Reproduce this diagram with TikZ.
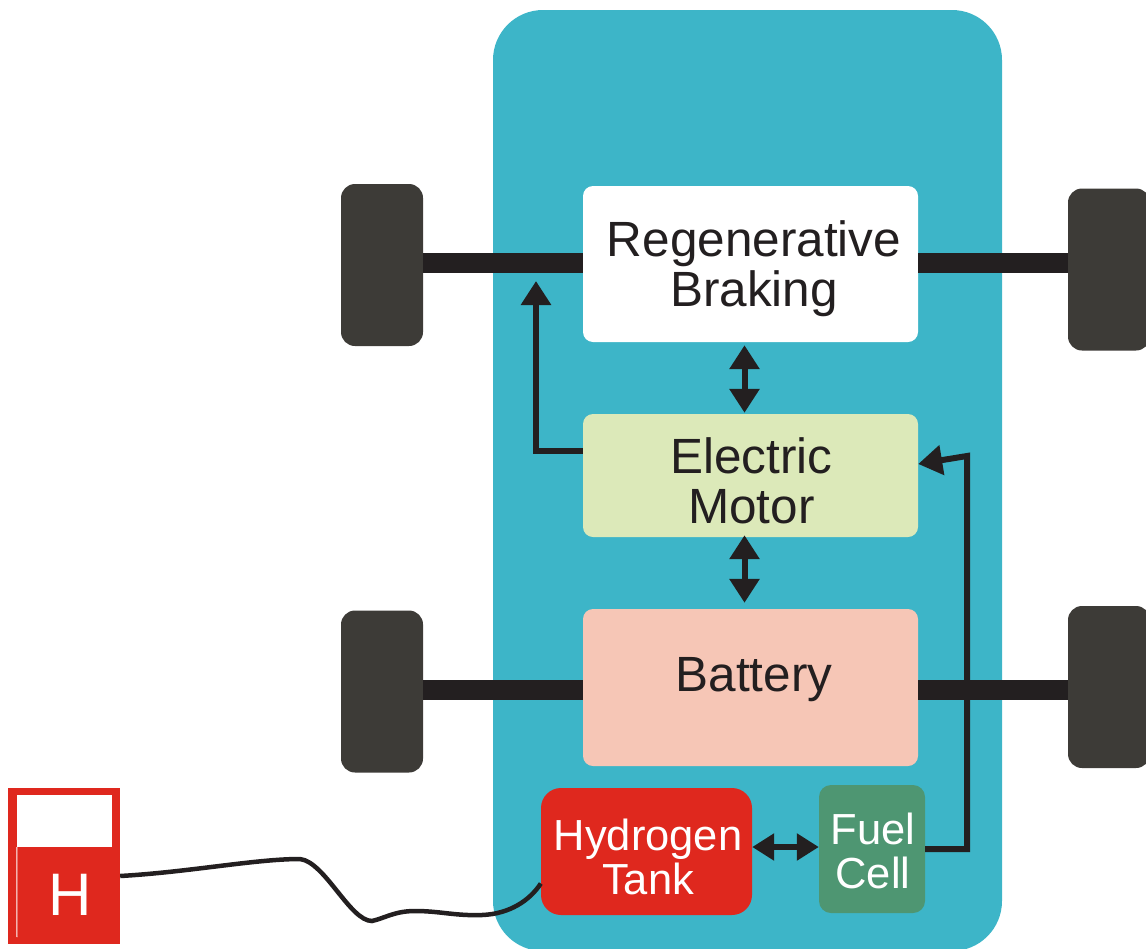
\documentclass[tikz,border=0pt]{standalone}
\usepackage{fontspec}
\setmainfont{Liberation Sans}
\usetikzlibrary{arrows.meta}
\definecolor{bodyteal}{HTML}{3DB5C8}
\definecolor{tirecol}{HTML}{3D3B37}
\definecolor{inkcol}{HTML}{231F20}
\definecolor{tankred}{HTML}{DF281E}
\definecolor{cellgreen}{HTML}{4E9672}
\definecolor{motorcol}{HTML}{DCE9B9}
\definecolor{battcol}{HTML}{F6C6B6}
\tikzset{
  block/.style={inner sep=0pt,align=center,minimum width=335pt,rounded corners=10pt,
    text=inkcol,font=\fontsize{49.5}{50}\selectfont},
  small/.style={inner sep=0pt,align=center,text=white,font=\fontsize{43.5}{44}\selectfont},
  tire/.style={fill=tirecol,inner sep=0pt,minimum width=82pt,minimum height=162pt,rounded corners=14pt},
  axle/.style={draw=inkcol,line width=20pt},
  wire/.style={draw=inkcol,line width=6pt},
  onearrow/.style={wire,-{Triangle[length=24pt,width=29pt]}},
  twoarrow/.style={wire,{Triangle[length=24pt,width=29pt]}-{Triangle[length=24pt,width=29pt]}}
}
\begin{document}
\begin{tikzpicture}[x=1pt,y=-1pt]
  \useasboundingbox (0,0) rectangle (1146,948);

  \node[fill=bodyteal,inner sep=0pt,minimum width=509pt,minimum height=941pt,rounded corners=50pt] (body) at (747.5,480.5) {};

  \node[tire] (wheelfl) at (382,265) {};
  \node[tire] (wheelfr) at (1109,269.5) {};
  \node[tire] (wheelrl) at (382,691.5) {};
  \node[tire] (wheelrr) at (1109,687) {};

  \node[block,fill=white,minimum height=156pt,text height=95pt] (regen) at (750.5,264) {\hspace*{7pt}Regenerative\\\hspace*{7pt}Braking};
  \node[block,fill=motorcol,minimum height=123pt,text height=96pt] (motor) at (750.5,475.5) {\hspace*{2pt}Electric\\\hspace*{2pt}Motor};
  \node[block,fill=battcol,minimum height=157pt,text depth=26pt] (batt) at (750.5,687.5) {\hspace*{7pt}Battery};
  \node[small,fill=tankred,minimum width=211pt,minimum height=127pt,rounded corners=20pt,text height=86pt] (tank) at (646.5,851.5) {\hspace*{3pt}Hydrogen\\\hspace*{3pt}Tank};
  \node[small,fill=cellgreen,minimum width=106pt,minimum height=128pt,rounded corners=12pt,text height=79pt] (cell) at (872,849) {\hspace*{2pt}Fuel\\\hspace*{2pt}Cell};

  \node[fill=tankred,inner sep=0pt,minimum width=112pt,minimum height=156pt] (pump) at (64,866) {};
  \node[fill=white,inner sep=0pt,minimum width=95pt,minimum height=52pt] (gauge) at (64.5,821) {};
  \node[text=white,inner sep=0pt,font=\fontsize{60}{60}\selectfont] (hlabel) at (70,895) {H};
  \draw[white,line width=1pt] (gauge.south west) -- (17,937);

  \coordinate (brake) at (536,281);
  \coordinate (bend) at (967,456);

  \draw[axle] ([yshift=1pt]regen.west) -- ([yshift=1pt]regen.west -| wheelfl.east);
  \draw[axle] ([yshift=1pt]regen.east) -- ([yshift=1pt]regen.east -| wheelfr.west);
  \draw[axle] ([yshift=-2pt]batt.west) -- ([yshift=-2pt]batt.west -| wheelrl.east);
  \draw[axle] ([yshift=-2pt]batt.east) -- ([yshift=-2pt]batt.east -| wheelrr.west);

  \draw[twoarrow,shorten <=3pt,shorten >=1pt] ([xshift=-6pt]regen.south) -- ([xshift=-6pt]motor.north);
  \draw[twoarrow,shorten <=-2pt,shorten >=6pt] ([xshift=-6pt]motor.south) -- ([xshift=-6pt]batt.north);
  \draw[twoarrow,{Triangle[length=22pt,width=26pt]}-{Triangle[length=22pt,width=26pt]}] ([yshift=4.5pt]tank.east) -- ([yshift=2pt]cell.west);
  \draw[onearrow] ([yshift=25pt]motor.west) -| (brake);
  \draw[onearrow] (cell.east) -| (bend) -- ([yshift=11.5pt]motor.east);

  \draw[draw=inkcol,line width=4.5pt]
     ([yshift=-10pt]pump.east)
     .. controls (190,872) and (255,859) .. (300,859)
     .. controls (325,862) and (350,921) .. (372,921)
     .. controls (385,918) and (395,911) .. (415,911)
     .. controls (440,911) and (455,916) .. (482,915)
     .. controls (510,914) and (530,900) .. ([yshift=-32pt]tank.west);
\end{tikzpicture}
\end{document}
